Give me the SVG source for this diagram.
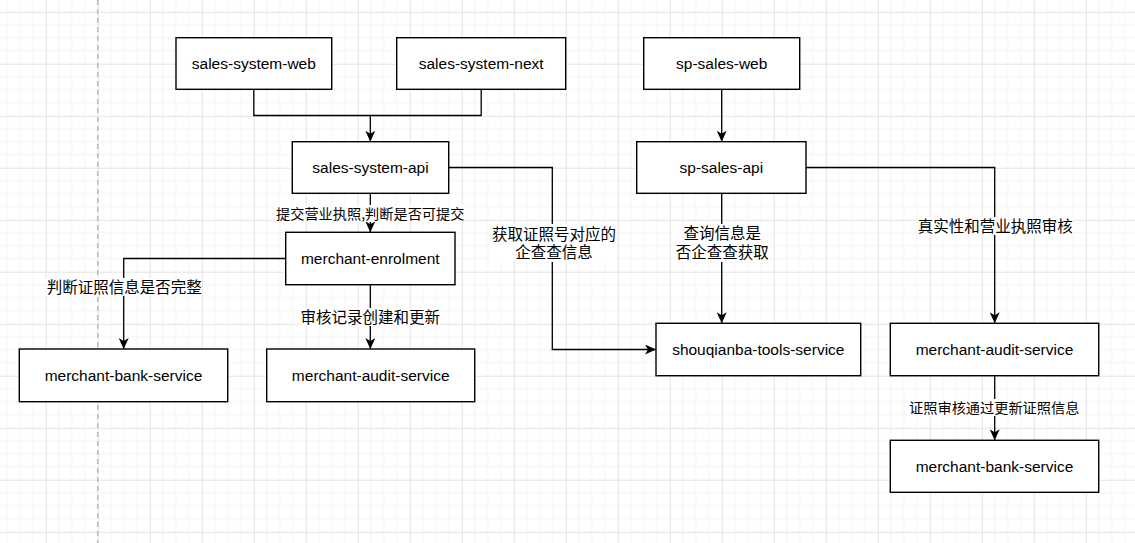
<svg xmlns="http://www.w3.org/2000/svg" width="1135" height="543" viewBox="0 0 1135 543">
<defs>
<pattern id="grid" patternUnits="userSpaceOnUse" x="45.7" y="11.7" width="52" height="52">
<path d="M13,0V52M26,0V52M39,0V52M0,13H52M0,26H52M0,39H52" stroke="#f3f3f3" stroke-width="1" fill="none"/>
<path d="M0.5,0V52M0,0.5H52" stroke="#e3e3e3" stroke-width="1" fill="none"/>
</pattern>
<marker id="arr" markerUnits="userSpaceOnUse" viewBox="0 0 11 10" refX="11" refY="5" markerWidth="11" markerHeight="10" orient="auto">
<path d="M0,0 L11,5 L0,10 L3,5 Z" fill="#000"/>
</marker>
</defs>
<style>
.box{fill:#fff;stroke:#000;stroke-width:1.4}
.bt{font-family:"Liberation Sans",Arial,sans-serif;font-size:15.5px;fill:#000;text-anchor:middle}
.edge{fill:none;stroke:#000;stroke-width:1.3}
.lbl{font-family:"Noto Sans CJK SC","Liberation Sans",sans-serif;font-size:15.5px;fill:#000;text-anchor:middle}
.lbs{font-size:14.2px}
.lbg{fill:#fff}
</style>
<rect width="1135" height="543" fill="#fff"/>
<rect width="1135" height="543" fill="url(#grid)"/>
<line x1="97.7" y1="0" x2="97.7" y2="543" stroke="#b3b3b3" stroke-width="1.3" stroke-dasharray="5 4"/>

<g id="connectors">
<path class="edge" d="M253.8,89.3V115.5H370.3V141.7" marker-end="url(#arr)"/>
<path class="edge" d="M481.2,89.3V115.5H370.3"/>
<path class="edge" d="M721.7,89.3V141.7" marker-end="url(#arr)"/>
<path class="edge" d="M370.3,193.3V232.3" marker-end="url(#arr)"/>
<path class="edge" d="M448.7,167.5H552.3V349.5H656" marker-end="url(#arr)"/>
<path class="edge" d="M285.7,258.5H123.7V349" marker-end="url(#arr)"/>
<path class="edge" d="M370.3,284.7V349" marker-end="url(#arr)"/>
<path class="edge" d="M721.7,193.3V323.3" marker-end="url(#arr)"/>
<path class="edge" d="M806,167.5H994.7V323.3" marker-end="url(#arr)"/>
<path class="edge" d="M994.7,375.7V440.3" marker-end="url(#arr)"/>

<rect class="lbg" x="275" y="205" width="190" height="17"/>
<text class="lbl lbs" x="370.2" y="218.5">提交营业执照,判断是否可提交</text>

<rect class="lbg" x="491" y="224" width="126" height="38"/>
<text class="lbl" x="554" y="239.5"><tspan x="554" y="239.5">获取证照号对应的</tspan><tspan x="554" y="257.5">企查查信息</tspan></text>

<rect class="lbg" x="46" y="278" width="156" height="18"/>
<text class="lbl" x="124.2" y="292.8">判断证照信息是否完整</text>

<rect class="lbg" x="301" y="308" width="139" height="18"/>
<text class="lbl" x="370.2" y="323.1">审核记录创建和更新</text>

<rect class="lbg" x="675" y="224" width="95" height="38"/>
<text class="lbl" x="722.2" y="239.2"><tspan x="722.2" y="239.2">查询信息是</tspan><tspan x="722.2" y="257.5">否企查查获取</tspan></text>

<rect class="lbg" x="917" y="217" width="156" height="18"/>
<text class="lbl" x="995.2" y="232.2">真实性和营业执照审核</text>

<rect class="lbg" x="908" y="399" width="172" height="17"/>
<text class="lbl lbs" x="994.2" y="413">证照审核通过更新证照信息</text>
</g>

<g id="sales-system-web"><rect class="box" x="176" y="37.7" width="155.7" height="51.6"/><text class="bt" x="253.8" y="69">sales-system-web</text></g>
<g id="sales-system-next"><rect class="box" x="396.7" y="37.7" width="169" height="51.6"/><text class="bt" x="481.2" y="69">sales-system-next</text></g>
<g id="sp-sales-web"><rect class="box" x="643.7" y="37.7" width="156" height="51.6"/><text class="bt" x="721.7" y="69">sp-sales-web</text></g>
<g id="sales-system-api"><rect class="box" x="292.3" y="141.7" width="156.4" height="51.6"/><text class="bt" x="370.5" y="173">sales-system-api</text></g>
<g id="sp-sales-api"><rect class="box" x="636.7" y="141.7" width="169.3" height="51.6"/><text class="bt" x="721.3" y="173">sp-sales-api</text></g>
<g id="merchant-enrolment"><rect class="box" x="285.7" y="232.3" width="169.3" height="52.4"/><text class="bt" x="370.3" y="264">merchant-enrolment</text></g>
<g id="merchant-bank-service-left"><rect class="box" x="19.3" y="349" width="208.4" height="52.7"/><text class="bt" x="123.5" y="381">merchant-bank-service</text></g>
<g id="merchant-audit-service-left"><rect class="box" x="266.7" y="349" width="208" height="52.7"/><text class="bt" x="370.7" y="381">merchant-audit-service</text></g>
<g id="shouqianba-tools-service"><rect class="box" x="656" y="323.3" width="204.7" height="52.4"/><text class="bt" x="758.3" y="355">shouqianba-tools-service</text></g>
<g id="merchant-audit-service-right"><rect class="box" x="890.3" y="323.3" width="208.4" height="52.4"/><text class="bt" x="994.5" y="355">merchant-audit-service</text></g>
<g id="merchant-bank-service-right"><rect class="box" x="890.3" y="440.3" width="208.4" height="52"/><text class="bt" x="994.5" y="471.8">merchant-bank-service</text></g>
</svg>
